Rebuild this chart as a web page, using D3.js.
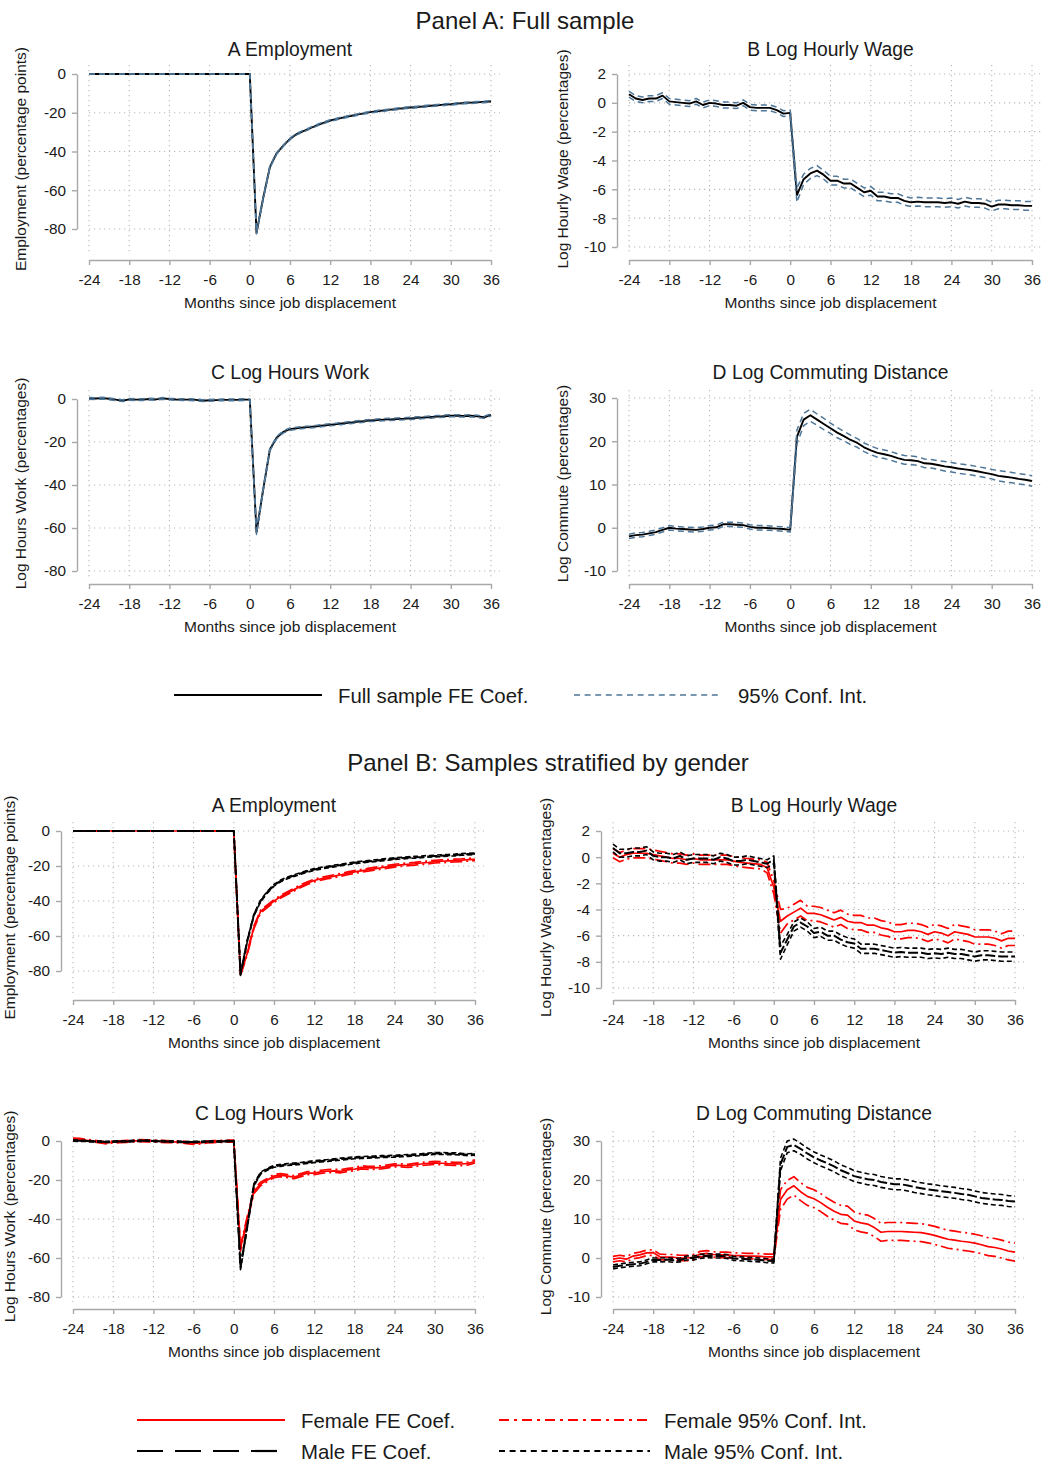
<!DOCTYPE html>
<html>
<head>
<meta charset="utf-8">
<script src="https://cdn.jsdelivr.net/npm/d3@7"></script>
<style>
  body { margin: 0; background: #fff; }
  text { font-family: "Liberation Sans", Arial, sans-serif; fill: #1a1a1a; }
  .grid line { stroke: #b8b8b8; stroke-width: 1.1; stroke-dasharray: 1.2,3.8; }
  .axis path, .axis line { stroke: #a8a8a8; stroke-width: 1.4; }
  .axis text { font-size: 15.3px; fill: #1a1a1a; }
</style>
</head>
<body>
<script>
// months since displacement, -24 .. 36
var months = d3.range(-24, 37)
var xTicks = [-24, -18, -12, -6, 0, 6, 12, 18, 24, 30, 36]

// ---- Panel A: full sample (coef, and half width of 95% CI) ----
var paEmp = [0, 0, 0, 0, 0, 0, 0, 0, 0, 0, 0, 0, 0, 0, 0, 0, 0, 0, 0, 0, 0, 0, 0, 0, 0,
  -82, -64, -48, -41, -37, -33.5, -31, -29.5, -28, -26.5, -25.2, -24, -23.2, -22.4, -21.7, -21, -20.3, -19.7,
  -19.2, -18.8, -18.4, -18, -17.6, -17.3, -17, -16.7, -16.4, -16.1, -15.8, -15.6, -15.3, -15, -14.8, -14.6, -14.4, -14.2]
var paEmpHW = [0, 0, 0, 0, 0, 0, 0, 0, 0, 0, 0, 0, 0, 0, 0, 0, 0, 0, 0, 0, 0, 0, 0, 0, 0,
  0.5, 0.5, 0.4, 0.4, 0.4, 0.4, 0.4, 0.4, 0.4, 0.4, 0.4, 0.4, 0.4, 0.4, 0.4, 0.4, 0.4, 0.4,
  0.4, 0.4, 0.4, 0.4, 0.4, 0.4, 0.4, 0.4, 0.4, 0.4, 0.4, 0.4, 0.4, 0.4, 0.4, 0.4, 0.4, 0.4]

var paWage = [0.6, 0.3, 0.2, 0.3, 0.3, 0.5, 0.1, 0.05, 0, -0.05, 0.1, -0.15, 0, -0.05, -0.15, -0.15, -0.2, 0, -0.3, -0.35, -0.35, -0.35, -0.5, -0.75, -0.7,
  -6.4, -5.3, -4.9, -4.7, -5.0, -5.4, -5.4, -5.6, -5.6, -5.9, -6.2, -6.1, -6.5, -6.5, -6.6, -6.6, -6.8, -6.9,
  -6.85, -6.9, -6.9, -6.9, -6.95, -6.9, -7.0, -6.85, -6.95, -6.95, -7.0, -7.2, -7.05, -7.05, -7.1, -7.1, -7.15, -7.15]
var paWageHW = [0.2, 0.2, 0.2, 0.2, 0.2, 0.2, 0.2, 0.2, 0.2, 0.2, 0.2, 0.2, 0.2, 0.2, 0.2, 0.2, 0.2, 0.2, 0.2, 0.2, 0.2, 0.2, 0.2, 0.2, 0.2,
  0.5, 0.35, 0.35, 0.35, 0.3, 0.3, 0.3, 0.3, 0.3, 0.3, 0.3, 0.3, 0.3, 0.3, 0.3, 0.3, 0.3, 0.3,
  0.3, 0.3, 0.3, 0.3, 0.3, 0.3, 0.3, 0.3, 0.3, 0.3, 0.3, 0.3, 0.3, 0.3, 0.3, 0.3, 0.3, 0.3]

var paHours = [0.3, 0.2, 0.4, 0.1, -0.3, -0.8, -0.2, -0.3, -0.3, 0, -0.2, 0.3, 0, -0.2, -0.3, -0.3, -0.4, -0.8, -0.6, -0.5, -0.4, -0.4, -0.4, -0.3, -0.3,
  -62, -42, -23.5, -18, -15.3, -14, -13.6, -13.2, -13, -12.7, -12.3, -12, -11.7, -11.3, -11, -10.6, -10.3, -10,
  -9.8, -9.6, -9.5, -9.3, -9.2, -9, -8.8, -8.6, -8.4, -8.2, -8, -7.8, -7.8, -7.9, -7.8, -8.1, -8.5, -7.4]
var paHoursHW = [0.4, 0.4, 0.4, 0.4, 0.4, 0.4, 0.4, 0.4, 0.4, 0.4, 0.4, 0.4, 0.4, 0.4, 0.4, 0.4, 0.4, 0.4, 0.4, 0.4, 0.4, 0.4, 0.4, 0.4, 0.3,
  1.0, 0.8, 0.6, 0.5, 0.5, 0.5, 0.5, 0.5, 0.5, 0.5, 0.5, 0.5, 0.5, 0.5, 0.5, 0.5, 0.5, 0.5,
  0.5, 0.5, 0.5, 0.5, 0.5, 0.5, 0.5, 0.5, 0.5, 0.5, 0.5, 0.5, 0.5, 0.5, 0.5, 0.5, 0.5, 0.5]

var paComm = [-2, -1.7, -1.6, -1.3, -1.0, -0.5, 0, -0.2, -0.3, -0.4, -0.5, -0.3, 0, 0.1, 0.8, 0.8, 0.7, 0.6, 0.2, 0, 0, -0.1, -0.2, -0.3, -0.5,
  21, 25, 26, 25, 24, 23, 22, 21.2, 20.3, 19.6, 18.6, 17.9, 17.3, 17, 16.6, 16.1, 15.7, 15.6,
  15.4, 14.9, 14.8, 14.5, 14.2, 14, 13.7, 13.5, 13.3, 13, 12.7, 12.4, 12, 11.8, 11.6, 11.3, 11.1, 10.8]
var paCommHW = [0.5, 0.5, 0.5, 0.5, 0.5, 0.5, 0.5, 0.5, 0.5, 0.5, 0.5, 0.5, 0.5, 0.5, 0.5, 0.5, 0.5, 0.5, 0.5, 0.5, 0.5, 0.5, 0.5, 0.5, 0.5,
  1.6, 1.4, 1.4, 1.3, 1.3, 1.2, 1.2, 1.1, 1.1, 1.0, 1.0, 1.0, 1.0, 1.0, 1.0, 1.0, 1.0, 1.0,
  1.0, 1.0, 1.0, 1.0, 1.1, 1.1, 1.1, 1.1, 1.1, 1.1, 1.1, 1.1, 1.2, 1.2, 1.2, 1.2, 1.2, 1.2]

// ---- Panel B: by gender ----
var fEmp = [0, 0, 0, 0, 0, 0, 0, 0, 0, 0, 0, 0, 0, 0, 0, 0, 0, 0, 0, 0, 0, 0, 0, 0, 0,
  -82, -70, -55, -46, -43, -40, -37.5, -35.5, -33.5, -31.5, -29.8, -28.3, -27.3, -26.5, -25.8, -25, -24.2, -23.4,
  -22.8, -22.2, -21.6, -21, -20.4, -19.8, -19.4, -19, -18.7, -18.3, -18, -17.5, -17.3, -17.1, -16.9, -16.7, -16.4, -16.2]
var fEmpHW = [0, 0, 0, 0, 0, 0, 0, 0, 0, 0, 0, 0, 0, 0, 0, 0, 0, 0, 0, 0, 0, 0, 0, 0, 0,
  0.8, 0.8, 0.8, 0.8, 0.8, 0.8, 0.8, 0.8, 0.8, 0.8, 0.8, 0.8, 0.8, 0.8, 0.8, 0.8, 0.8, 0.8,
  0.8, 0.8, 0.8, 0.8, 0.8, 0.8, 0.8, 0.8, 0.8, 0.8, 0.8, 0.8, 0.8, 0.8, 0.8, 0.8, 0.8, 0.8]
var mEmp = [0, 0, 0, 0, 0, 0, 0, 0, 0, 0, 0, 0, 0, 0, 0, 0, 0, 0, 0, 0, 0, 0, 0, 0, 0,
  -82, -63, -48, -40, -35, -31, -28.5, -26.8, -25.5, -24.2, -23, -22, -21.3, -20.6, -20, -19.4, -18.8, -18.2,
  -17.8, -17.4, -17, -16.6, -16.2, -15.8, -15.5, -15.2, -15, -14.8, -14.5, -14.3, -14.1, -13.9, -13.7, -13.4, -13.2, -13]
var mEmpHW = [0, 0, 0, 0, 0, 0, 0, 0, 0, 0, 0, 0, 0, 0, 0, 0, 0, 0, 0, 0, 0, 0, 0, 0, 0,
  0.5, 0.5, 0.5, 0.5, 0.5, 0.5, 0.5, 0.5, 0.5, 0.5, 0.5, 0.5, 0.5, 0.5, 0.5, 0.5, 0.5, 0.5,
  0.5, 0.5, 0.5, 0.5, 0.5, 0.5, 0.5, 0.5, 0.5, 0.5, 0.5, 0.5, 0.5, 0.5, 0.5, 0.5, 0.5, 0.5]

var fWage = [0.3, 0.0, 0.2, 0.3, 0.3, 0.3, 0.2, 0.1, 0, -0.1, -0.1, -0.2, -0.1, -0.2, -0.2, -0.2, -0.2, -0.2, -0.3, -0.4, -0.45, -0.5, -0.55, -0.8, -2.3,
  -4.9, -4.5, -4.2, -3.9, -4.3, -4.3, -4.4, -4.6, -4.8, -4.6, -4.9, -5.0, -5.0, -5.2, -5.2, -5.4, -5.5, -5.7,
  -5.7, -5.6, -5.6, -5.7, -5.9, -5.7, -5.8, -6.0, -5.7, -5.8, -5.9, -6.1, -6.1, -6.1, -6.2, -6.4, -6.2, -6.2]
var fWageHW = [0.35, 0.35, 0.35, 0.35, 0.35, 0.35, 0.35, 0.35, 0.35, 0.35, 0.35, 0.35, 0.35, 0.35, 0.35, 0.35, 0.35, 0.35, 0.35, 0.35, 0.35, 0.35, 0.35, 0.4, 0.5,
  0.9, 0.6, 0.6, 0.6, 0.55, 0.55, 0.55, 0.55, 0.55, 0.55, 0.55, 0.55, 0.55, 0.55, 0.55, 0.55, 0.55, 0.55,
  0.55, 0.55, 0.55, 0.55, 0.55, 0.55, 0.55, 0.55, 0.55, 0.55, 0.55, 0.55, 0.55, 0.55, 0.55, 0.55, 0.55, 0.55]
var mWage = [0.7, 0.3, 0.3, 0.4, 0.4, 0.5, 0.1, 0, 0, -0.1, 0.1, -0.2, -0.1, -0.1, -0.1, -0.2, 0, -0.1, -0.3, -0.3, -0.2, -0.3, -0.4, -0.5, -0.2,
  -7.3, -6.3, -5.3, -5.0, -5.3, -5.8, -5.7, -6.0, -6.0, -6.3, -6.5, -6.6, -7.0, -7.0, -7.0, -7.1, -7.2, -7.3,
  -7.25, -7.3, -7.3, -7.3, -7.4, -7.35, -7.4, -7.3, -7.4, -7.4, -7.5, -7.6, -7.5, -7.5, -7.55, -7.6, -7.6, -7.6]
var mWageHW = [0.3, 0.3, 0.3, 0.3, 0.3, 0.3, 0.3, 0.3, 0.3, 0.3, 0.3, 0.3, 0.3, 0.3, 0.3, 0.3, 0.3, 0.3, 0.3, 0.3, 0.3, 0.3, 0.3, 0.3, 0.3,
  0.5, 0.4, 0.35, 0.35, 0.35, 0.35, 0.35, 0.35, 0.35, 0.35, 0.35, 0.35, 0.35, 0.35, 0.35, 0.35, 0.35, 0.35,
  0.35, 0.35, 0.35, 0.35, 0.35, 0.35, 0.35, 0.35, 0.35, 0.35, 0.35, 0.35, 0.35, 0.35, 0.35, 0.35, 0.35, 0.35]

var fHours = [1.0, 0.8, 0.4, 0, -0.5, -1.0, -0.5, -0.4, -0.2, 0, 0.2, 0.1, 0, -0.2, -0.3, -0.4, -0.5, -0.8, -1.2, -1.0, -0.5, -0.3, -0.2, -0.1, 0,
  -55, -40, -26, -22, -20, -18, -17.5, -18, -18.5, -17.5, -16.5, -16.5, -15.8, -15.5, -15.3, -15.5, -14.8, -14.5,
  -13.5, -13.8, -13.8, -13.5, -13, -12.5, -12.5, -12.8, -12.3, -11.8, -11.5, -11.2, -11.4, -11.6, -11.7, -11.8, -11.5, -10.5]
var fHoursHW = [0.5, 0.5, 0.5, 0.5, 0.5, 0.5, 0.5, 0.5, 0.5, 0.5, 0.5, 0.5, 0.5, 0.5, 0.5, 0.5, 0.5, 0.5, 0.5, 0.5, 0.5, 0.5, 0.5, 0.5, 0.5,
  1.5, 1.2, 1.0, 0.9, 0.8, 0.8, 0.8, 0.8, 0.8, 0.8, 0.8, 0.8, 0.8, 0.8, 0.8, 0.8, 0.8, 0.8,
  0.8, 0.8, 0.8, 0.8, 0.8, 0.8, 0.8, 0.8, 0.8, 0.8, 0.8, 0.8, 0.8, 0.8, 0.8, 0.8, 0.8, 0.8]
var mHours = [0.2, 0.1, 0, -0.2, -0.3, -0.5, -0.3, -0.2, -0.2, 0, 0.1, 0.2, 0, -0.1, -0.2, -0.3, -0.4, -0.6, -0.5, -0.4, -0.3, -0.2, -0.2, -0.1, 0,
  -65, -44, -22.5, -16.5, -14.5, -13, -12.5, -12, -11.8, -11.5, -11, -10.6, -10.3, -10, -9.6, -9.3, -9, -8.6,
  -8.5, -8.3, -8.2, -8, -7.9, -7.8, -7.6, -7.4, -7.2, -7, -6.7, -6.4, -6.4, -6.5, -6.5, -6.8, -7.0, -6.8]
var mHoursHW = [0.3, 0.3, 0.3, 0.3, 0.3, 0.3, 0.3, 0.3, 0.3, 0.3, 0.3, 0.3, 0.3, 0.3, 0.3, 0.3, 0.3, 0.3, 0.3, 0.3, 0.3, 0.3, 0.3, 0.3, 0.3,
  1.0, 0.8, 0.6, 0.5, 0.5, 0.5, 0.5, 0.5, 0.5, 0.5, 0.5, 0.5, 0.5, 0.5, 0.5, 0.5, 0.5, 0.5,
  0.5, 0.5, 0.5, 0.5, 0.5, 0.5, 0.5, 0.5, 0.5, 0.5, 0.5, 0.5, 0.5, 0.5, 0.5, 0.5, 0.5, 0.5]

var fComm = [-0.3, 0, -0.3, 0.5, 0.8, 1.3, 1.4, 0.3, 0.2, 0.2, 0, 0, 0.2, 1.0, 1.2, 0.9, 0.8, 0.8, 0.6, 0.6, 0.5, 0.5, 0.4, 0.3, 0.3,
  15, 17.5, 18.5, 17, 15.8, 15.2, 14.2, 13, 12, 11.2, 11, 9.5, 9, 8.7, 7.8, 6.6, 6.8, 6.8,
  6.8, 6.7, 6.6, 6.5, 6.2, 5.8, 5.3, 4.8, 4.6, 4.3, 4.1, 3.8, 3.4, 2.9, 2.7, 2.3, 1.8, 1.5]
var fCommHW = [0.7, 0.7, 0.7, 0.7, 0.7, 0.7, 0.7, 0.7, 0.7, 0.7, 0.7, 0.7, 0.7, 0.7, 0.7, 0.7, 0.7, 0.7, 0.7, 0.7, 0.7, 0.7, 0.7, 0.7, 0.7,
  2.5, 2.4, 2.35, 2.3, 2.3, 2.3, 2.3, 2.3, 2.3, 2.3, 2.3, 2.3, 2.3, 2.3, 2.3, 2.3, 2.3, 2.3,
  2.3, 2.3, 2.3, 2.3, 2.3, 2.3, 2.3, 2.3, 2.3, 2.3, 2.3, 2.3, 2.3, 2.3, 2.3, 2.3, 2.3, 2.3]
var mComm = [-2.3, -2.0, -1.8, -1.6, -1.5, -1.0, -0.5, -0.5, -0.4, -0.6, -0.5, 0, 0, 0.4, 0.6, 0.5, 0.5, 0.4, -0.1, -0.2, -0.3, -0.4, -0.5, -0.7, -0.8,
  24, 28.5, 29, 28, 26.8, 25.8, 25, 24.3, 23.5, 22.5, 21.8, 21, 20.6, 20.2, 20, 19.5, 19.2, 18.9,
  18.9, 18.6, 18.2, 17.9, 17.6, 17.4, 17.1, 16.9, 16.7, 16.4, 16.2, 15.8, 15.4, 15.2, 15, 14.9, 14.6, 14.5]
var mCommHW = [0.5, 0.5, 0.5, 0.5, 0.5, 0.5, 0.5, 0.5, 0.5, 0.5, 0.5, 0.5, 0.5, 0.5, 0.5, 0.5, 0.5, 0.5, 0.5, 0.5, 0.5, 0.5, 0.5, 0.5, 0.5,
  1.6, 1.5, 1.5, 1.4, 1.4, 1.4, 1.4, 1.4, 1.4, 1.4, 1.4, 1.4, 1.4, 1.4, 1.4, 1.4, 1.4, 1.4,
  1.4, 1.4, 1.4, 1.4, 1.4, 1.4, 1.4, 1.4, 1.4, 1.4, 1.4, 1.4, 1.4, 1.4, 1.4, 1.4, 1.4, 1.4]

var empTicks = [0, -20, -40, -60, -80]
var wageTicks = [2, 0, -2, -4, -6, -8, -10]
var hoursTicks = [0, -20, -40, -60, -80]
var commTicks = [30, 20, 10, 0, -10]

var ciBlue = '#4d7698'
var styleA = {
  coef: {color: '#000', width: 1.9, dash: null},
  ci: {color: ciBlue, width: 1.5, dash: '6,4'}
}
var styleF = {
  coef: {color: '#ff0000', width: 1.7, dash: null},
  ci: {color: '#ff0000', width: 1.7, dash: '12,4,2,4'}
}
var styleM = {
  coef: {color: '#000', width: 2, dash: '10,3'},
  ci: {color: '#000', width: 1.6, dash: '5,3'}
}

var W = 1045
var H = 1463
var svg = d3.select('body').append('svg')
  .attr('width', W)
  .attr('height', H)

svg.append('rect').attr('width', W).attr('height', H).attr('fill', '#fff')

// layout of each small chart
var panels = [
  {title: 'A Employment', ylab: 'Employment (percentage points)', ticks: empTicks, left: 89, right: 491, yAxisX: 77, tPix: [74, 229], axisY: 260, top: 65, titleY: 49, ylabX: 20,
    series: [{c: paEmp, h: paEmpHW, s: styleA}]},
  {title: 'B Log Hourly Wage', ylab: 'Log Hourly Wage (percentages)', ticks: wageTicks, left: 629, right: 1032, yAxisX: 617, tPix: [74, 247], axisY: 260, top: 65, titleY: 49, ylabX: 562,
    series: [{c: paWage, h: paWageHW, s: styleA}]},
  {title: 'C Log Hours Work', ylab: 'Log Hours Work (percentages)', ticks: hoursTicks, left: 89, right: 491, yAxisX: 77, tPix: [399, 571], axisY: 584, top: 390, titleY: 372, ylabX: 20,
    series: [{c: paHours, h: paHoursHW, s: styleA}]},
  {title: 'D Log Commuting Distance', ylab: 'Log Commute (percentages)', ticks: commTicks, left: 629, right: 1032, yAxisX: 617, tPix: [398, 571], axisY: 584, top: 390, titleY: 372, ylabX: 562,
    series: [{c: paComm, h: paCommHW, s: styleA}]},

  {title: 'A Employment', ylab: 'Employment (percentage points)', ticks: empTicks, left: 73, right: 475, yAxisX: 61, tPix: [831, 971], axisY: 1000, top: 822, titleY: 805, ylabX: 9,
    series: [{c: fEmp, h: fEmpHW, s: styleF}, {c: mEmp, h: mEmpHW, s: styleM}]},
  {title: 'B Log Hourly Wage', ylab: 'Log Hourly Wage (percentages)', ticks: wageTicks, left: 613, right: 1015, yAxisX: 601, tPix: [831, 988], axisY: 1000, top: 822, titleY: 805, ylabX: 545,
    series: [{c: fWage, h: fWageHW, s: styleF}, {c: mWage, h: mWageHW, s: styleM}]},
  {title: 'C Log Hours Work', ylab: 'Log Hours Work (percentages)', ticks: hoursTicks, left: 73, right: 475, yAxisX: 61, tPix: [1141, 1297], axisY: 1309, top: 1131, titleY: 1113, ylabX: 9,
    series: [{c: fHours, h: fHoursHW, s: styleF}, {c: mHours, h: mHoursHW, s: styleM}]},
  {title: 'D Log Commuting Distance', ylab: 'Log Commute (percentages)', ticks: commTicks, left: 613, right: 1015, yAxisX: 601, tPix: [1141, 1297], axisY: 1309, top: 1131, titleY: 1113, ylabX: 545,
    series: [{c: fComm, h: fCommHW, s: styleF}, {c: mComm, h: mCommHW, s: styleM}]}
]

function strokeStyle (sel, st) {
  sel.attr('fill', 'none')
    .attr('stroke', st.color)
    .attr('stroke-width', st.width)
    .attr('stroke-dasharray', st.dash)
    .attr('stroke-linejoin', 'round')
}

function drawPanel (p) {
  var g = svg.append('g')
  var x = d3.scaleLinear().domain([-24, 36]).range([p.left, p.right])
  var y = d3.scaleLinear().domain([p.ticks[0], p.ticks[p.ticks.length - 1]]).range(p.tPix)
  var gx0 = p.left
  var gx1 = p.right + 9
  var gy1 = p.axisY - 7

  // dotted grid
  var grid = g.append('g').classed('grid', true)
  grid.selectAll('.h').data(p.ticks).enter().append('line')
    .attr('x1', gx0).attr('x2', gx1)
    .attr('y1', function (d) { return y(d) })
    .attr('y2', function (d) { return y(d) })
  grid.selectAll('.v').data(xTicks).enter().append('line')
    .attr('x1', function (d) { return x(d) })
    .attr('x2', function (d) { return x(d) })
    .attr('y1', p.top).attr('y2', gy1)

  // axes
  g.append('g').classed('axis', true)
    .attr('transform', 'translate(' + p.yAxisX + ',0)')
    .call(d3.axisLeft(y).tickValues(p.ticks).tickSize(5).tickPadding(6).tickSizeOuter(0)
      .tickFormat(function (d) { return String(d) }))
  g.append('g').classed('axis', true)
    .attr('transform', 'translate(0,' + p.axisY + ')')
    .call(d3.axisBottom(x).tickValues(xTicks).tickSize(5).tickPadding(9).tickSizeOuter(0)
      .tickFormat(function (d) { return String(d) }))
  g.selectAll('.axis .domain').attr('stroke', '#a8a8a8')

  // titles
  g.append('text')
    .attr('x', (p.left + p.right) / 2).attr('y', p.titleY)
    .attr('text-anchor', 'middle').attr('dominant-baseline', 'central')
    .style('font-size', '19.3px')
    .text(p.title)
  g.append('text')
    .attr('x', (p.left + p.right) / 2).attr('y', p.axisY + 42)
    .attr('text-anchor', 'middle').attr('dominant-baseline', 'central')
    .style('font-size', '15.5px')
    .text('Months since job displacement')
  g.append('text')
    .attr('transform', 'translate(' + p.ylabX + ',' + ((p.top + gy1) / 2) + ') rotate(-90)')
    .attr('text-anchor', 'middle').attr('dominant-baseline', 'central')
    .style('font-size', '15.5px')
    .text(p.ylab)

  var line = d3.line()
    .x(function (d, i) { return x(months[i]) })
    .y(function (d) { return y(d) })

  p.series.forEach(function (sr) {
    var upper = sr.c.map(function (v, i) { return v + sr.h[i] })
    var lower = sr.c.map(function (v, i) { return v - sr.h[i] })
    g.append('path').datum(sr.c).attr('d', line).call(strokeStyle, sr.s.coef)
    g.append('path').datum(upper).attr('d', line).call(strokeStyle, sr.s.ci)
    g.append('path').datum(lower).attr('d', line).call(strokeStyle, sr.s.ci)
  })
}

panels.forEach(drawPanel)

// panel titles
svg.append('text').attr('x', 525).attr('y', 20)
  .attr('text-anchor', 'middle').attr('dominant-baseline', 'central')
  .style('font-size', '24px').text('Panel A: Full sample')
svg.append('text').attr('x', 548).attr('y', 762)
  .attr('text-anchor', 'middle').attr('dominant-baseline', 'central')
  .style('font-size', '24px').text('Panel B: Samples stratified by gender')

// legends
var legendItems = [
  {x1: 174, x2: 322, y: 695, tx: 338, label: 'Full sample FE Coef.', st: {color: '#000', width: 2, dash: null}},
  {x1: 574, x2: 722, y: 695, tx: 738, label: '95% Conf. Int.', st: {color: ciBlue, width: 1.6, dash: '6,4.6'}},
  {x1: 137, x2: 285, y: 1420, tx: 301, label: 'Female FE Coef.', st: {color: '#ff0000', width: 2, dash: null}},
  {x1: 499, x2: 650, y: 1420, tx: 664, label: 'Female 95% Conf. Int.', st: {color: '#ff0000', width: 2, dash: '10,5,3,5'}},
  {x1: 137, x2: 278, y: 1451, tx: 301, label: 'Male FE Coef.', st: {color: '#000', width: 2.2, dash: '26,12'}},
  {x1: 499, x2: 650, y: 1451, tx: 664, label: 'Male 95% Conf. Int.', st: {color: '#000', width: 1.8, dash: '6,4.6'}}
]
var leg = svg.append('g')
leg.selectAll('line').data(legendItems).enter().append('line')
  .attr('x1', function (d) { return d.x1 })
  .attr('x2', function (d) { return d.x2 })
  .attr('y1', function (d) { return d.y })
  .attr('y2', function (d) { return d.y })
  .each(function (d) { d3.select(this).call(strokeStyle, d.st) })
leg.selectAll('text').data(legendItems).enter().append('text')
  .attr('x', function (d) { return d.tx })
  .attr('y', function (d) { return d.y + 1 })
  .attr('dominant-baseline', 'central')
  .style('font-size', '20.4px')
  .text(function (d) { return d.label })
</script>
</body>
</html>
